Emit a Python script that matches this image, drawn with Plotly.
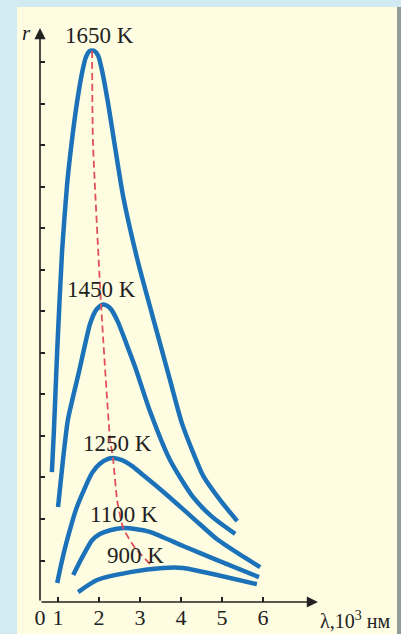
import plotly.graph_objects as go

# ---- data (λ in 10^3 nm, r in arbitrary units) ----
temps = ["1650 K", "1450 K", "1250 K", "1100 K", "900 K"]

lam_1650 = [0.85, 0.90, 0.98, 1.10, 1.22, 1.34, 1.46, 1.59, 1.68, 1.78, 1.88, 1.98, 2.07, 2.22, 2.39, 2.59, 2.95, 3.41, 3.73, 4.02, 4.27, 4.54, 4.95, 5.37]
r_1650 = [3.13, 4.14, 6.07, 8.48, 10.05, 11.13, 12.02, 12.77, 13.13, 13.28, 13.28, 13.16, 12.82, 12.02, 10.96, 9.76, 8.19, 6.51, 5.35, 4.31, 3.66, 3.04, 2.46, 1.95]

lam_1450 = [1.00, 1.12, 1.24, 1.51, 1.78, 1.93, 2.07, 2.15, 2.27, 2.46, 2.68, 2.88, 3.24, 3.73, 4.29, 4.76, 5.32]
r_1450 = [2.29, 3.42, 4.39, 5.54, 6.70, 7.04, 7.16, 7.16, 7.08, 6.75, 6.19, 5.66, 4.60, 3.42, 2.53, 2.05, 1.64]

lam_1250 = [0.98, 1.10, 1.22, 1.46, 1.83, 2.02, 2.22, 2.34, 2.56, 2.80, 3.05, 3.37, 3.85, 4.34, 4.88, 5.44, 5.93]
r_1250 = [0.46, 1.01, 1.49, 2.29, 3.11, 3.33, 3.45, 3.47, 3.42, 3.28, 3.08, 2.82, 2.41, 1.98, 1.51, 1.14, 0.84]

lam_1100 = [1.37, 1.59, 1.83, 2.02, 2.27, 2.59, 2.88, 3.24, 4.05, 4.88, 5.90]
r_1100 = [0.65, 1.08, 1.49, 1.64, 1.73, 1.78, 1.76, 1.69, 1.35, 1.01, 0.60]

lam_900 = [1.49, 1.95, 2.76, 3.56, 4.05, 4.88, 5.85]
r_900 = [0.24, 0.53, 0.72, 0.82, 0.82, 0.65, 0.43]

# Wien displacement (peak locus)
lam_peak = [1.83, 1.85, 2.05, 2.27, 2.34, 2.44, 2.59, 2.88, 3.32]
r_peak = [13.28, 11.13, 7.16, 3.90, 3.47, 2.46, 1.78, 1.30, 0.84]

# label anchor values for temperatures
label_lam = [2.00, 2.07, 2.44, 2.61, 2.88]
label_r = [13.66, 7.52, 3.83, 2.10, 1.13]

x_ticks = [0.56, 1, 2, 3, 4, 5, 6]
x_ticktext = ["0", "1", "2", "3", "4", "5", "6"]
y_ticks = list(range(1, 14))

X0, X1 = 0.56, 7.34
Y0, Y1 = 0.0, 13.83

BLUE = "#1c72b8"
RED = "#e0505a"
INK = "#222222"
FONT = "Liberation Serif"

fig = go.Figure()
curves = [(lam_1650, r_1650), (lam_1450, r_1450), (lam_1250, r_1250),
          (lam_1100, r_1100), (lam_900, r_900)]
for (lx, ry), name in zip(curves, temps):
    fig.add_trace(go.Scatter(x=lx, y=ry, mode="lines", name=name,
                             line=dict(color=BLUE, width=4.5, shape="spline", smoothing=0.6),
                             hoverinfo="skip", showlegend=False))

fig.add_trace(go.Scatter(x=lam_peak, y=r_peak, mode="lines",
                         line=dict(color=RED, width=1.8, dash="7px,4px", shape="spline", smoothing=0.5),
                         hoverinfo="skip", showlegend=False))

annotations = []
for t, lx, ry in zip(temps, label_lam, label_r):
    annotations.append(dict(x=lx, y=ry, xref="x", yref="y", text=t, showarrow=False,
                            font=dict(family=FONT, size=23, color=INK),
                            xanchor="center", yanchor="middle"))

# axis arrows
annotations.append(dict(x=X0, y=Y1, ax=X0, ay=Y0, xref="x", yref="y", axref="x", ayref="y",
                        text="", showarrow=True, arrowhead=2, arrowsize=1.4, arrowwidth=1.6,
                        arrowcolor=INK))
annotations.append(dict(x=X1, y=Y0, ax=X0, ay=Y0, xref="x", yref="y", axref="x", ayref="y",
                        text="", showarrow=True, arrowhead=2, arrowsize=1.4, arrowwidth=1.6,
                        arrowcolor=INK))
# axis titles
annotations.append(dict(x=-0.047, y=0.991, xref="paper", yref="paper", text="<i>r</i>",
                        showarrow=False, font=dict(family=FONT, size=21, color=INK),
                        xanchor="center", yanchor="middle"))
annotations.append(dict(x=1.0, y=-0.031, xref="paper", yref="paper",
                        text="λ,10<sup>3</sup> нм", showarrow=False,
                        font=dict(family=FONT, size=20, color=INK),
                        xanchor="left", yanchor="middle"))

# pixel -> paper helpers for background panel
L, R, T, B = 40, 83, 28, 32
W, H = 401, 634
pw, ph = W - L - R, H - T - B
def px(p):
    return (p - L) / pw
def py(q):
    return (H - B - q) / ph

shapes = [
    dict(type="rect", xref="paper", yref="paper", x0=px(17), x1=px(397), y0=py(660), y1=py(7),
         fillcolor="#fefde2", line=dict(width=0), layer="below"),
    dict(type="rect", xref="paper", yref="paper", x0=px(397), x1=px(405), y0=py(660), y1=py(7),
         fillcolor="#8f9c98", line=dict(width=0), layer="below"),
]

fig.update_layout(
    width=W, height=H, autosize=False,
    margin=dict(l=L, r=R, t=T, b=B, pad=0),
    paper_bgcolor="#d2ebf3", plot_bgcolor="rgba(0,0,0,0)",
    annotations=annotations, shapes=shapes,
    xaxis=dict(range=[X0, X1], showgrid=False, zeroline=False, showline=False,
               automargin=False,
               tickvals=x_ticks, ticktext=x_ticktext, ticks="inside", ticklen=5,
               tickwidth=1.5, tickcolor=INK,
               tickfont=dict(family=FONT, size=22, color=INK)),
    yaxis=dict(range=[Y0, Y1], showgrid=False, zeroline=False, showline=False,
               automargin=False,
               tickvals=y_ticks, showticklabels=False, ticks="inside", ticklen=5,
               tickwidth=1.5, tickcolor=INK),
)

fig.write_html("out.html", config={"displayModeBar": False},
               post_script="document.body.style.margin='0';document.body.style.overflow='hidden';")
